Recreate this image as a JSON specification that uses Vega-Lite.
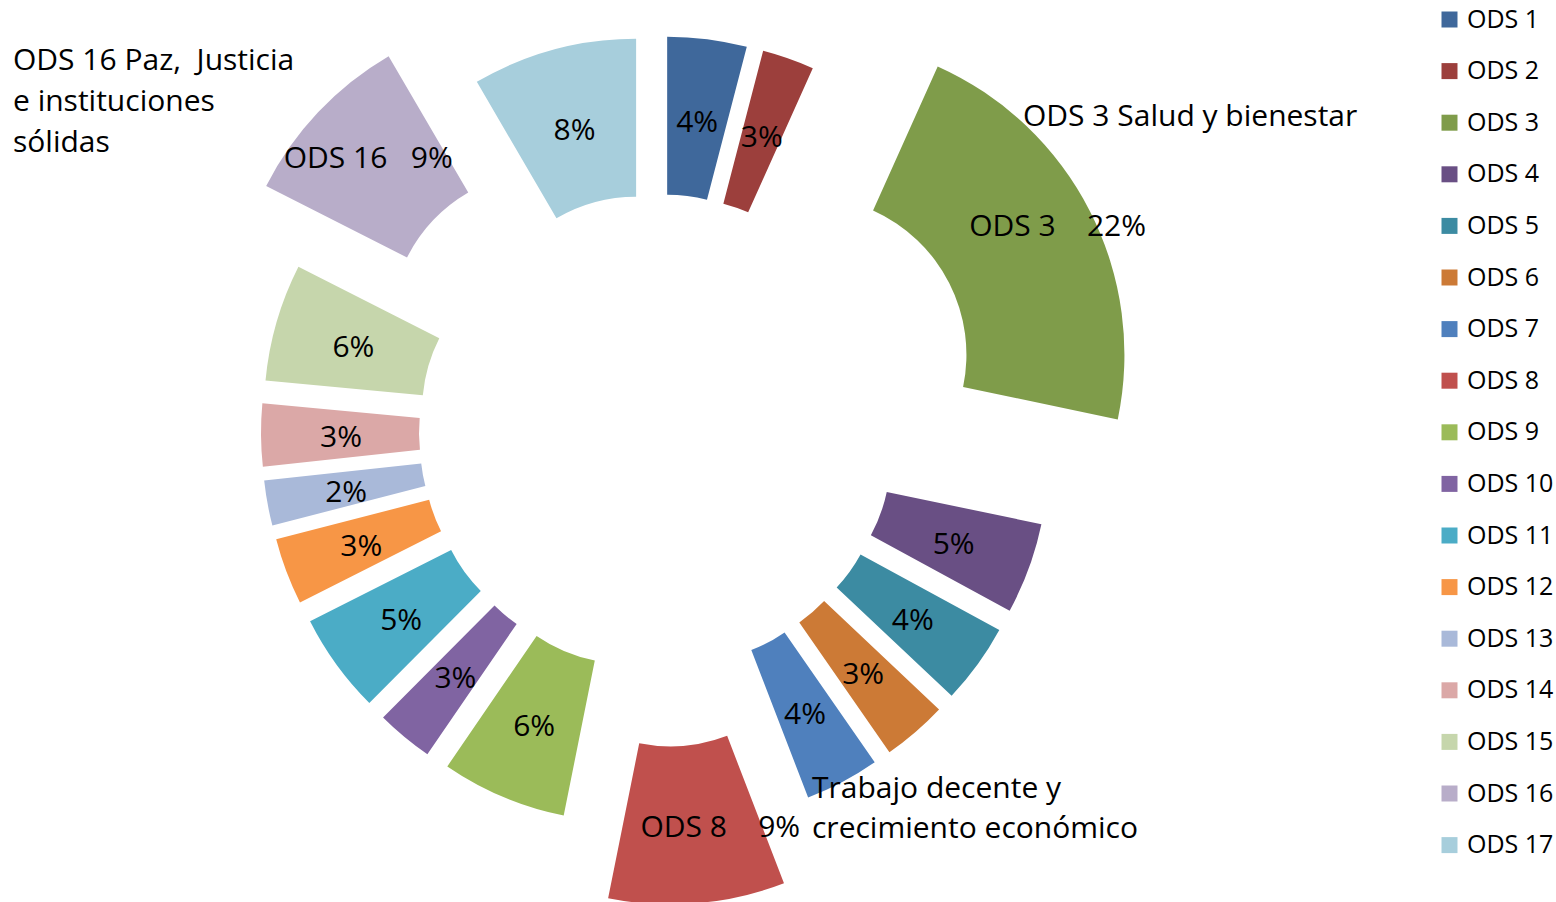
{
  "$schema": "https://vega.github.io/schema/vega-lite/v6.json",
  "width": 1314,
  "height": 864,
  "padding": 0,
  "autosize": {"type": "pad"},
  "background": "white",
  "config": {"view": {"stroke": null}, "font": "Open Sans", "text": {"font": "Open Sans"}},
  "data": {"values": [
    {"ods": "ODS 1", "n": 1, "share": 0.0405, "label": "4%"},
    {"ods": "ODS 2", "n": 2, "share": 0.0265, "label": "3%"},
    {"ods": "ODS 3", "n": 3, "share": 0.2155, "label": "ODS 3\u00a0\u00a0\u00a0\u00a022%", "nota": "ODS 3 Salud y bienestar"},
    {"ods": "ODS 4", "n": 4, "share": 0.0465, "label": "5%"},
    {"ods": "ODS 5", "n": 5, "share": 0.041, "label": "4%"},
    {"ods": "ODS 6", "n": 6, "share": 0.033, "label": "3%"},
    {"ods": "ODS 7", "n": 7, "share": 0.038, "label": "4%"},
    {"ods": "ODS 8", "n": 8, "share": 0.09, "label": "ODS 8\u00a0\u00a0\u00a0\u00a09%", "nota": "Trabajo decente y\ncrecimiento económico"},
    {"ods": "ODS 9", "n": 9, "share": 0.064, "label": "6%"},
    {"ods": "ODS 10", "n": 10, "share": 0.029, "label": "3%"},
    {"ods": "ODS 11", "n": 11, "share": 0.051, "label": "5%"},
    {"ods": "ODS 12", "n": 12, "share": 0.034, "label": "3%"},
    {"ods": "ODS 13", "n": 13, "share": 0.023, "label": "2%"},
    {"ods": "ODS 14", "n": 14, "share": 0.032, "label": "3%"},
    {"ods": "ODS 15", "n": 15, "share": 0.06, "label": "6%"},
    {"ods": "ODS 16", "n": 16, "share": 0.091, "label": "ODS 16\u00a0\u00a0\u00a09%", "nota": "ODS 16 Paz, \u00a0Justicia\ne instituciones\nsólidas"},
    {"ods": "ODS 17", "n": 17, "share": 0.084, "label": "8%"}
  ]},
  "encoding": {
    "theta": {"field": "share", "type": "quantitative", "stack": true},
    "order": {"field": "n", "type": "quantitative"}
  },
  "layer": [
    {
      "mark": {
        "type": "arc", "innerRadius": 158, "outerRadius": 316,
        "xOffset": {"expr": "(datum.ods === 'ODS 3' ? 170 : datum.ods === 'ODS 8' ? 157 : datum.ods === 'ODS 16' ? 150 : 80) * sin((scale('theta', datum.share_start) + scale('theta', datum.share_end)) / 2)"},
        "yOffset": {"expr": "-(datum.ods === 'ODS 3' ? 170 : datum.ods === 'ODS 8' ? 157 : datum.ods === 'ODS 16' ? 150 : 80) * cos((scale('theta', datum.share_start) + scale('theta', datum.share_end)) / 2)"}
      },
      "encoding": {
        "color": {
          "field": "ods", "type": "nominal",
          "scale": {
            "domain": ["ODS 1", "ODS 2", "ODS 3", "ODS 4", "ODS 5", "ODS 6", "ODS 7", "ODS 8", "ODS 9", "ODS 10", "ODS 11", "ODS 12", "ODS 13", "ODS 14", "ODS 15", "ODS 16", "ODS 17"],
            "range": ["#3F689B", "#9C3F3C", "#7F9C4A", "#694F84", "#3C8BA2", "#CC7A36", "#4F80BD", "#C0504D", "#9BBB59", "#8064A2", "#4BACC6", "#F79646", "#A9B9D9", "#DBA8A7", "#C6D6AC", "#B8ADC9", "#A7CEDC"]
          },
          "legend": {
            "title": null, "orient": "right", "offset": 116, "padding": 7,
            "symbolType": "square", "symbolSize": 256, "symbolStrokeWidth": 0,
            "labelFontSize": 25, "labelFont": "Open Sans", "labelColor": "black",
            "rowPadding": 25.6, "labelOffset": 5, "labelLimit": 200
          }
        }
      }
    },
    {
      "mark": {
        "type": "text", "radius": 236, "fontSize": 30, "color": "black", "align": "center", "baseline": "middle",
        "dx": {"expr": "datum.ods === 'ODS 3' ? 39 : datum.ods === 'ODS 8' ? 30 : datum.ods === 'ODS 16' ? -8 : 0"},
        "dy": {"expr": "datum.ods === 'ODS 3' ? -21 : datum.ods === 'ODS 16' ? -8 : 4"},
        "xOffset": {"expr": "(datum.ods === 'ODS 3' ? 170 : datum.ods === 'ODS 8' ? 157 : datum.ods === 'ODS 16' ? 150 : 80) * sin((scale('theta', datum.share_start) + scale('theta', datum.share_end)) / 2)"},
        "yOffset": {"expr": "-(datum.ods === 'ODS 3' ? 170 : datum.ods === 'ODS 8' ? 157 : datum.ods === 'ODS 16' ? 150 : 80) * cos((scale('theta', datum.share_start) + scale('theta', datum.share_end)) / 2)"}
      },
      "encoding": {"text": {"field": "label", "type": "nominal"}}
    },
    {
      "mark": {"type": "text", "radius": 0, "fontSize": 30, "color": "black", "align": "left", "baseline": "alphabetic", "dx": 366, "dy": -306},
      "encoding": {"text": {"condition": {"test": "datum.ods === 'ODS 3'", "field": "nota"}, "value": ""}}
    },
    {
      "mark": {"type": "text", "radius": 0, "fontSize": 30, "color": "black", "align": "left", "baseline": "alphabetic", "dx": 155, "dy": 366, "lineBreak": "\n", "lineHeight": 40},
      "encoding": {"text": {"condition": {"test": "datum.ods === 'ODS 8'", "field": "nota"}, "value": ""}}
    },
    {
      "mark": {"type": "text", "radius": 0, "fontSize": 30, "color": "black", "align": "left", "baseline": "alphabetic", "dx": -644, "dy": -362, "lineBreak": "\n", "lineHeight": 41},
      "encoding": {"text": {"condition": {"test": "datum.ods === 'ODS 16'", "field": "nota"}, "value": ""}}
    }
  ]
}
